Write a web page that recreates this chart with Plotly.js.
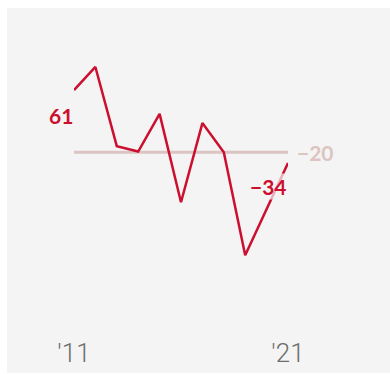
<!DOCTYPE html>
<html>
<head>
<meta charset="utf-8">
<script src="https://cdn.plot.ly/plotly-3.0.1.min.js"></script>
<style>
  html, body { margin: 0; padding: 0; background: #ffffff; width: 390px; height: 374px; overflow: hidden; }
  #chart { position: absolute; left: 7px; top: 8px; width: 383px; height: 365px; }
</style>
</head>
<body>
<div id="chart"></div>
<script>
// Data
const years = [2011, 2012, 2013, 2014, 2015, 2016, 2017, 2018, 2019, 2020, 2021];
const values = [61, 91, -12, -19, 30, -85, 18, -20, -154, -94, -34];
const referenceValue = -20;
const tickValues = [2011, 2021];
const tickLabels = ["'11", "'21"];

const fmt = v => (v < 0 ? "\u2212" + Math.abs(v) : String(v));

const red = "#cc0f2e";
const refColor = "#dcc4c2";

const traces = [
  {
    x: [years[0], years[years.length - 1]],
    y: [referenceValue, referenceValue],
    mode: "lines",
    line: { color: refColor, width: 3 },
    hoverinfo: "skip"
  },
  {
    x: years,
    y: values,
    mode: "lines",
    line: { color: red, width: 2.5 },
    hoverinfo: "skip"
  }
];

const first = values[0];
const last = values[values.length - 1];

const layout = {
  width: 383,
  height: 365,
  paper_bgcolor: "#f4f4f4",
  plot_bgcolor: "#f4f4f4",
  showlegend: false,
  margin: { l: 67, r: 102, t: 20, b: 45 },
  xaxis: {
    range: [2011, 2021],
    showgrid: false, zeroline: false, showline: false,
    tickvals: tickValues,
    ticktext: tickLabels,
    ticks: "",
    ticklabelstandoff: 7,
    tickfont: { family: "Roboto", size: 26, color: "#6e6e6e", weight: 300 },
    fixedrange: true
  },
  yaxis: {
    range: [-248.6, 141.7],
    showgrid: false, zeroline: false, showline: false,
    showticklabels: false, ticks: "",
    fixedrange: true
  },
  annotations: [
    {
      x: years[0], y: first, xref: "x", yref: "y",
      text: fmt(first), showarrow: false,
      xanchor: "right", yanchor: "middle", xshift: 1, yshift: -25,
      font: { family: "Lato", size: 21, color: red, weight: 700 }
    },
    {
      x: years[years.length - 1], y: last, xref: "x", yref: "y",
      text: fmt(last), showarrow: false,
      xanchor: "center", yanchor: "middle", xshift: -20, yshift: -23,
      bgcolor: "rgba(244,244,244,0.7)", borderpad: 0,
      font: { family: "Lato", size: 21, color: red, weight: 700 }
    },
    {
      x: years[years.length - 1], y: referenceValue, xref: "x", yref: "y",
      text: fmt(referenceValue), showarrow: false,
      xanchor: "left", yanchor: "middle", xshift: 7, yshift: 0,
      font: { family: "Lato", size: 21, color: refColor, weight: 700 }
    }
  ]
};

Plotly.newPlot("chart", traces, layout, { displayModeBar: false, staticPlot: true });
</script>
</body>
</html>
